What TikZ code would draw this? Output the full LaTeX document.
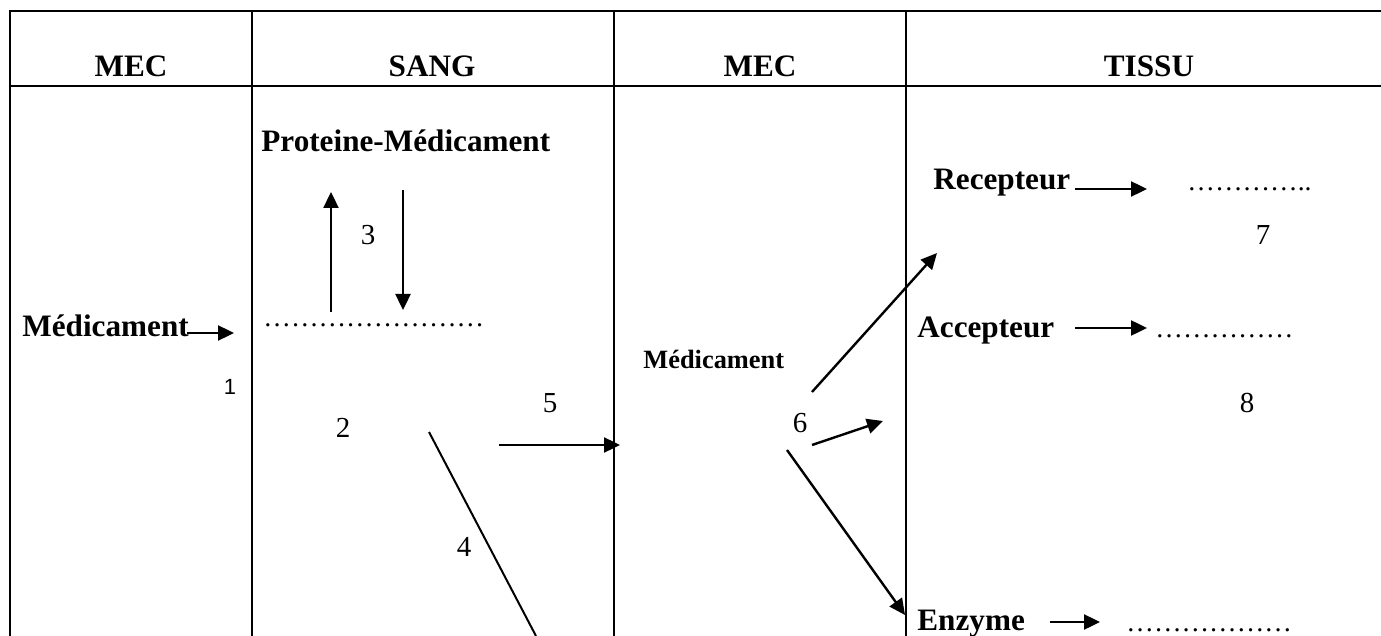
\documentclass[tikz,border=0pt]{standalone}
\usepackage{fontspec}
\setmainfont{Liberation Serif}
\newfontfamily\sansone{Liberation Sans}
\usetikzlibrary{arrows.meta}
\begin{document}
\begin{tikzpicture}[x=0.5pt,y=-0.5pt,
  rule/.style={line width=1.35pt},
  arr/.style={line width=1.2pt,-{Triangle[length=8pt,width=7.5pt]}},
  plain/.style={line width=1pt},
  lbl/.style={inner sep=0pt,font=\fontsize{15.6pt}{18pt}\selectfont\bfseries},
  slbl/.style={inner sep=0pt,font=\fontsize{13.2pt}{15pt}\selectfont\bfseries},
  num/.style={inner sep=0pt,font=\fontsize{14.5pt}{17pt}\selectfont},
  dotsty/.style={inner sep=0pt,font=\fontsize{13.8pt}{16pt}\selectfont},
]
\useasboundingbox (0,0) rectangle (1381,636);
% table
\draw[rule] (10,636) -- (10,11) -- (1381,11);
\draw[rule] (10,86) -- (1381,86);
\draw[rule] (252,11) -- (252,636);
\draw[rule] (614,11) -- (614,636);
\draw[rule] (906,11) -- (906,636);
% headings
\node[lbl,anchor=base] (h1) at (131,77) {MEC};
\node[lbl,anchor=base] (h2) at (432,77) {SANG};
\node[lbl,anchor=base] (h3) at (760,77) {MEC};
\node[lbl,anchor=base] (h4) at (1149,77) {TISSU};
% column 1
\node[lbl,anchor=base west] (med1) at (22,336) {Médicament};
\coordinate (a1s) at (187,333);
\coordinate (a1e) at (234,333);
\draw[arr] (a1s) -- (a1e);
\node[inner sep=0pt,font=\sansone\fontsize{11pt}{13pt}\selectfont] (n1) at (230,387) {1};
% column 2
\node[lbl,anchor=base west] (prot) at (261,152) {Proteine-Médicament};
\node[dotsty,anchor=base west] (dots2) at (263,327) {……………………};
\coordinate (up1) at (331,312);
\coordinate (up2) at (331,192);
\coordinate (dn1) at (403,190);
\coordinate (dn2) at (403,310);
\draw[arr] (up1) -- (up2);
\draw[arr] (dn1) -- (dn2);
\node[num] (n3) at (368,235) {3};
\node[num] (n2) at (343,428) {2};
\coordinate (l4a) at (429,432);
\coordinate (l4b) at (536,636);
\draw[plain] (l4a) -- (l4b);
\node[num] (n4) at (464,547) {4};
\node[num] (n5) at (550,403) {5};
\coordinate (a5s) at (499,445);
\coordinate (a5e) at (620,445);
\draw[arr] (a5s) -- (a5e);
% column 3
\node[slbl,anchor=base west] (med3) at (643,368) {Médicament};
\node[num] (n6) at (800,423) {6};
\coordinate (r1) at (812,392);
\coordinate (r2) at (937,253);
\draw[arr] (r1) -- (r2);
\coordinate (c1) at (812,445);
\coordinate (c2) at (883,421);
\draw[arr] (c1) -- (c2);
\coordinate (e1) at (787,450);
\coordinate (e2) at (905,615);
\draw[arr] (e1) -- (e2);
% column 4
\node[lbl,anchor=base west] (rec) at (933,190) {Recepteur};
\coordinate (rs) at (1075,189);
\coordinate (ra) at (1147,189);
\draw[arr] (rs) -- (ra);
\node[dotsty,anchor=base west] (dotsr) at (1187,191) {…………..};
\node[num] (n7) at (1263,235) {7};
\node[lbl,anchor=base west] (acc) at (917,337) {Accepteur};
\coordinate (as) at (1075,328);
\coordinate (aa) at (1147,328);
\draw[arr] (as) -- (aa);
\node[dotsty,anchor=base west] (dotsa) at (1155,337) {……………};
\node[num] (n8) at (1247,403) {8};
\node[lbl,anchor=base west] (enz) at (917,630) {Enzyme};
\coordinate (es) at (1050,622);
\coordinate (ea) at (1100,622);
\draw[arr] (es) -- (ea);
\node[dotsty,anchor=base west] (dotse) at (1126,631) {………………};
\end{tikzpicture}
\end{document}
